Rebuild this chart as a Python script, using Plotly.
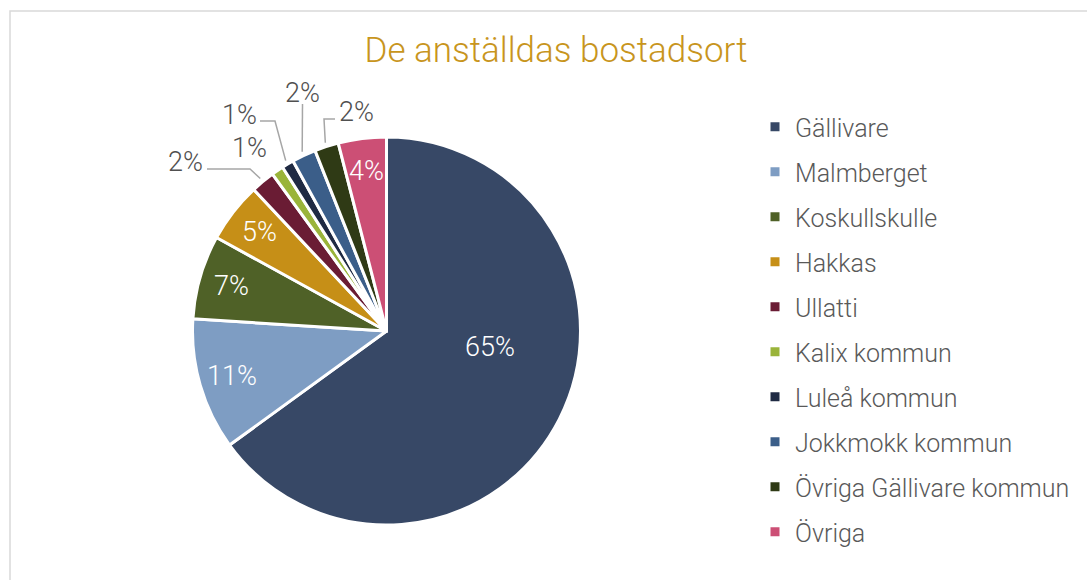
import math
import plotly.graph_objects as go

# ---- data ----
categories = ["Gällivare", "Malmberget", "Koskullskulle", "Hakkas", "Ullatti",
              "Kalix kommun", "Luleå kommun", "Jokkmokk kommun",
              "Övriga Gällivare kommun", "Övriga"]
shares = [65, 11, 7, 5, 2, 1, 1, 2, 2, 4]
colors = ["#374866", "#7e9dc3", "#4f6127", "#c68f17", "#6a1c34",
          "#9ab43a", "#1f2a43", "#3b5e89", "#2f3a15", "#cc4f75"]
title_text = "De anställdas bostadsort"

# ---- layout constants (pixels) ----
W, H = 1087, 580
CX, CY, R = 386.5, 331.0, 194.0
FONT = "Roboto"
inside_idx = [0, 1, 2, 3, 9]
inside_override = {0: (490, 347)}
outside_cfg = {
    4: dict(label=(185, 162), path=[(207, 169), (250, 169)]),
    5: dict(label=(249, 148), path=None),
    6: dict(label=(239, 115), path=[(260, 121), (275, 121)]),
    7: dict(label=(302, 93), path=[(302.5, 104)]),
    8: dict(label=(356, 112), path=[(335, 119), (324, 119)]),
}


def px(x):
    return x / W


def py(y):
    return 1 - y / H


total = sum(shares)
mids = []
acc = 0
for v in shares:
    mids.append((acc + v / 2) / total * 2 * math.pi)
    acc += v


def polar(theta, r):
    return CX + r * math.sin(theta), CY - r * math.cos(theta)


fig = go.Figure()
fig.add_trace(go.Pie(
    labels=categories, values=shares, sort=False, direction="clockwise",
    rotation=0, marker=dict(colors=colors, line=dict(color="white", width=3)),
    textinfo="none", hoverinfo="label+percent", showlegend=False,
    domain=dict(x=[px(CX - R), px(CX + R)], y=[py(CY + R), py(CY - R)]),
))

# legend entries
for c, lab in zip(colors, categories):
    fig.add_trace(go.Scatter(
        x=[None], y=[None], mode="markers", name=lab, legendgroup=lab,
        marker=dict(symbol="square", size=9, color=c), showlegend=True))

annotations = []
shapes = []
for i in inside_idx:
    if i in inside_override:
        x, y = inside_override[i]
    else:
        x, y = polar(mids[i], 0.83 * R)
    annotations.append(dict(x=px(x), y=py(y), xref="paper", yref="paper",
                            xanchor="center", yanchor="middle",
                            text=f"{shares[i]}%", showarrow=False,
                            font=dict(family=FONT, size=27, color="white", weight=300)))

for i, cfg in outside_cfg.items():
    lx, ly = cfg["label"]
    annotations.append(dict(x=px(lx), y=py(ly), xref="paper", yref="paper",
                            xanchor="center", yanchor="middle",
                            text=f"{shares[i]}%", showarrow=False,
                            font=dict(family=FONT, size=27, color="#505050", weight=300)))
    if cfg["path"]:
        pts = list(cfg["path"]) + [polar(mids[i], R + 4)]
        d = "M " + " L ".join(f"{px(x):.5f},{py(y):.5f}" for x, y in pts)
        shapes.append(dict(type="path", path=d, xref="paper", yref="paper",
                           line=dict(color="#a6a6a6", width=1.5)))

# outer chart border
shapes.append(dict(type="rect", xref="paper", yref="paper",
                   x0=px(10), y0=py(H + 5), x1=px(W + 5), y1=py(11),
                   line=dict(color="#d9d9d9", width=1.5)))

fig.update_layout(
    width=W, height=H,
    margin=dict(l=0, r=0, t=0, b=0, autoexpand=False),
    paper_bgcolor="white", plot_bgcolor="white",
    title=dict(text=title_text, x=556 / W, xanchor="center", y=py(50),
               yanchor="middle", xref="paper", yref="container",
               font=dict(family=FONT, size=35, color="#c8951d", weight=300)),
    xaxis=dict(visible=False), yaxis=dict(visible=False),
    legend=dict(x=px(755), xanchor="left", y=py(104), yanchor="top",
                tracegroupgap=9.5, itemwidth=30,
                font=dict(family=FONT, size=25, color="#595959", weight=300),
                bgcolor="rgba(0,0,0,0)"),
    annotations=annotations, shapes=shapes,
)

fig.write_html("out.html", config={"displayModeBar": False},
               post_script="document.body.style.margin='0';")
